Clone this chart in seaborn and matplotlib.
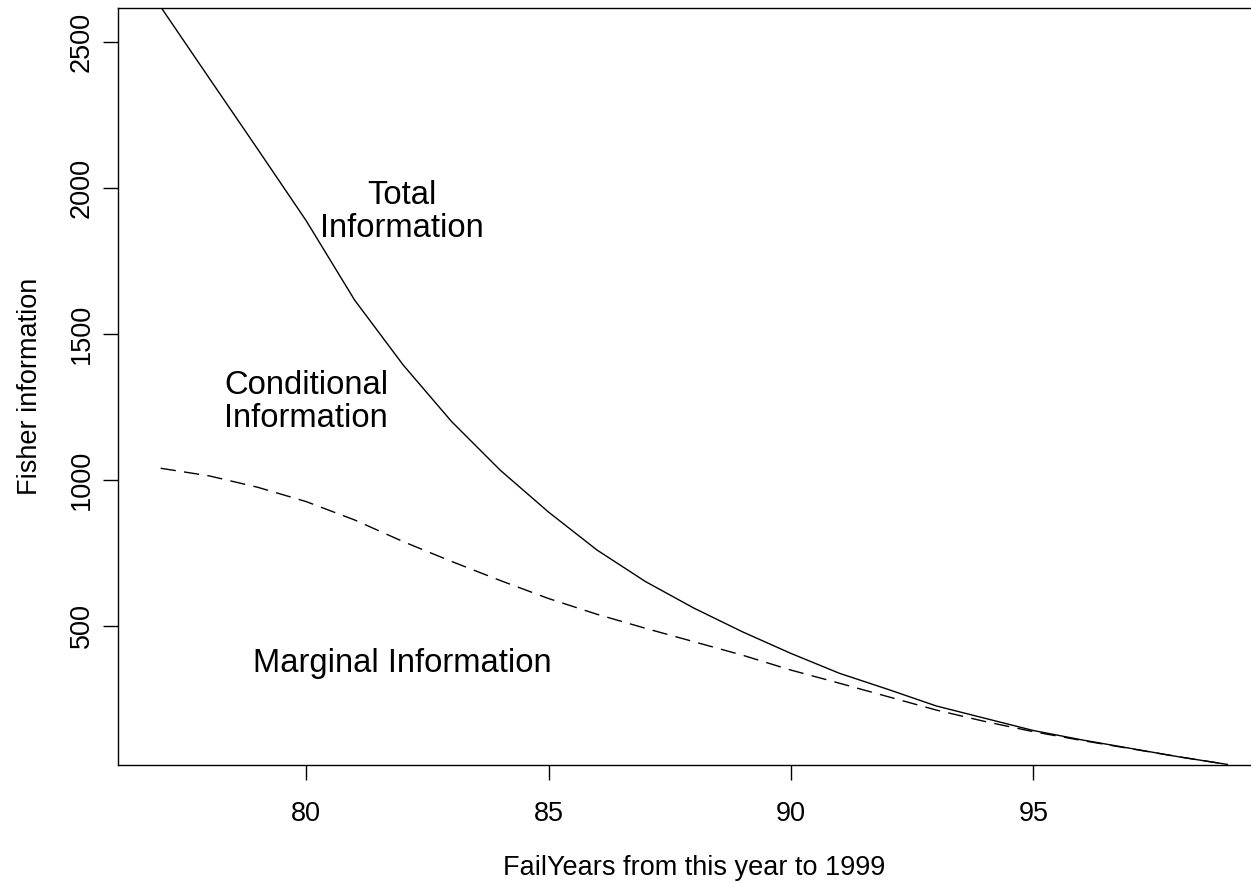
import matplotlib
matplotlib.use("Agg")
import matplotlib.pyplot as plt
import seaborn as sns
import pandas as pd

years = list(range(77, 100))
total_info = [2620, 2376, 2133, 1888, 1616, 1394, 1200, 1034, 890, 760, 652, 561,
              480, 406, 338, 283, 226, 184, 142, 110, 81, 52, 26]
marginal_info = [1040, 1014, 975, 926, 863, 789, 721, 656, 594, 540, 492, 446,
                 400, 349, 304, 258, 212, 173, 138, 108, 80, 52, 26]

x_ticks = [80, 85, 90, 95]
y_ticks = [500, 1000, 1500, 2000, 2500]

sns.set_style("white")
plt.rcParams['font.family'] = ['Liberation Sans', 'DejaVu Sans']
plt.rcParams['text.color'] = 'black'
plt.rcParams['axes.labelcolor'] = 'black'
plt.rcParams['xtick.color'] = 'black'
plt.rcParams['ytick.color'] = 'black'

fig = plt.figure(figsize=(12.51, 8.82), dpi=100)
ax = fig.add_axes([118 / 1251, 117 / 882, 1152 / 1251, 757 / 882])

df_total = pd.DataFrame({"year": years, "value": total_info})
df_marg = pd.DataFrame({"year": years, "value": marginal_info})

sns.lineplot(data=df_total, x="year", y="value", ax=ax, color="black", linewidth=1.0)
sns.lineplot(data=df_marg, x="year", y="value", ax=ax, color="black", linewidth=1.0,
             dashes=False, linestyle=(0, (11, 6)))

ax.set_xlim(76.12, 99.88)
ax.set_ylim(24, 2616)
ax.set_xticks(x_ticks)
ax.set_yticks(y_ticks)
ax.set_xticklabels([str(t) for t in x_ticks], fontsize=19.5, color='black')
ax.set_yticklabels([str(t) for t in y_ticks], fontsize=19.5, rotation=90, va='center',
                   color='black')

for s in ["left", "bottom", "top"]:
    ax.spines[s].set_visible(True)
    ax.spines[s].set_color("black")
    ax.spines[s].set_linewidth(1.0)
ax.spines["right"].set_visible(False)

ax.tick_params(axis='x', direction='out', length=10.8, width=1.0, pad=15, colors='black', bottom=True)
ax.tick_params(axis='y', direction='out', length=10.8, width=1.0, pad=6, colors='black', left=True)

ax.set_xlabel("FailYears from this year to 1999", fontsize=19.5, va='center', color='black')
ax.set_ylabel("Fisher information", fontsize=19.5, va='center', color='black')
ax.xaxis.set_label_coords(0.5, -0.136)
ax.yaxis.set_label_coords(-0.0764, 0.5)

ax.text(81.98, 1917, "Total\nInformation", fontsize=23.6, ha='center', va='center',
        linespacing=1.1, color='black')
ax.text(80.0, 1267, "Conditional\nInformation", fontsize=23.6, ha='center', va='center',
        linespacing=1.1, color='black')
ax.text(81.99, 372, "Marginal Information", fontsize=23.6, ha='center', va='center',
        color='black')

fig.savefig("out.png", dpi=100)
